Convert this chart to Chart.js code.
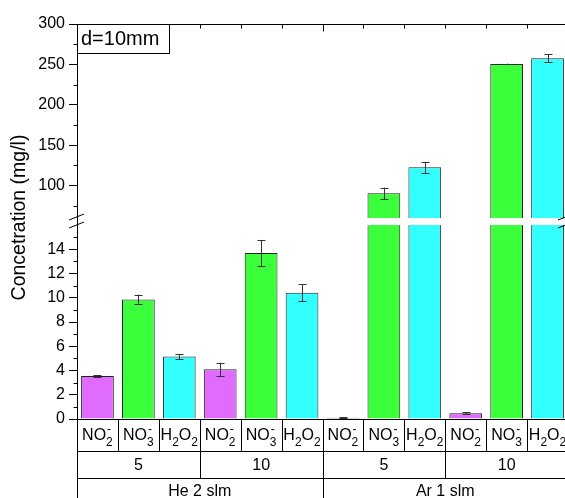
<!DOCTYPE html>
<html>
<head>
<meta charset="utf-8">
<script src="https://cdn.jsdelivr.net/npm/chart.js@4/dist/chart.umd.min.js"></script>
<style>
  html, body { margin: 0; padding: 0; background: #fff; overflow: hidden; }
  #wrap { width: 568px; height: 498px; }
</style>
</head>
<body>
<div id="wrap"><canvas id="concChart" width="568" height="498"></canvas></div>
<script>
// --- data ---
const gases = ['He 2 slm', 'Ar 1 slm'];
const distances = ['5', '10'];
const species = ['NO2-', 'NO3-', 'H2O2'];
// formula pieces: [text, subscript, superscript]
const speciesParts = [
    [['NO', '2', '-']],
    [['NO', '3', '-']],
    [['H', '2', ''], ['O', '2', '']]
];
const speciesColors = ['#df6bff', '#3cff3c', '#33ffff'];

const values = [3.54, 9.86, 5.16, 4.1, 13.7, 10.42, 0.1, 90.5, 122.7, 0.47, 250.5, 257.6];
const errors = [0.05, 0.4, 0.2, 0.55, 1.07, 0.71, 0.03, 7.2, 6.8, 0.07, 0.5, 4.8];

const lowTicks = [0, 2, 4, 6, 8, 10, 12, 14];
const lowMinor = [1, 3, 5, 7, 9, 11, 13, 15];
const highTicks = [100, 150, 200, 250, 300];
const highMinor = [75, 125, 175, 225, 275];

// axis break
const breakLow = 16, breakHigh = 60;
const lowMax = 16.29, highMin = 55.7, highMax = 300;

const categories = [];
gases.forEach(g => distances.forEach(d => species.forEach(s => categories.push(g + ' / ' + d + ' / ' + s))));

const lowData = values.map(v => Math.min(v, lowMax));
const highData = values.map(v => v > breakHigh ? [highMin, v] : null);
const barColors = categories.map((c, i) => speciesColors[i % 3]);

const FONT = '"Liberation Sans", Arial, sans-serif';
Chart.defaults.font.family = FONT;
Chart.defaults.color = '#000';

const line = (ctx, x1, y1, x2, y2) => {
    ctx.beginPath();
    ctx.moveTo(x1, y1);
    ctx.lineTo(x2, y2);
    ctx.stroke();
};
const px = v => Math.round(v) + 0.5;

function drawFormula(ctx, parts, cx, baseY) {
    const big = '16px ' + FONT;
    const small = '12px ' + FONT;
    let total = 0;
    const widths = parts.map(([t, sub, sup]) => {
        ctx.font = big;
        const w1 = ctx.measureText(t).width;
        ctx.font = small;
        const w2 = Math.max(ctx.measureText(sub).width, ctx.measureText(sup).width);
        total += w1 + w2;
        return [w1, w2];
    });
    let xx = cx - total / 2;
    ctx.textAlign = 'left';
    ctx.textBaseline = 'alphabetic';
    parts.forEach(([t, sub, sup], i) => {
        ctx.font = big;
        ctx.fillText(t, xx, baseY);
        xx += widths[i][0];
        ctx.font = small;
        if (sub) ctx.fillText(sub, xx, baseY + 6);
        if (sup) ctx.fillText(sup, xx + 1, baseY - 7);
        xx += widths[i][1];
    });
}

// error bars
const errorBars = {
    id: 'errorBars',
    afterDatasetsDraw(chart) {
        const {ctx, scales: {x, yLow, yHigh}} = chart;
        ctx.save();
        ctx.strokeStyle = '#333';
        ctx.lineWidth = 1;
        values.forEach((v, i) => {
            const y = v > breakHigh ? yHigh : yLow;
            const cx = px(x.getPixelForValue(i));
            const t = y.getPixelForValue(v + errors[i]);
            const b = y.getPixelForValue(v - errors[i]);
            line(ctx, cx, t, cx, b);
            line(ctx, cx - 4, px(t), cx + 4, px(t));
            line(ctx, cx - 4, px(b), cx + 4, px(b));
        });
        ctx.restore();
    }
};

// axis break band, frame, minor ticks, category table, labels
const decor = {
    id: 'decor',
    afterDraw(chart) {
        const {ctx, chartArea: a, scales: {x, yLow, yHigh}} = chart;
        ctx.save();
        ctx.strokeStyle = '#000';
        ctx.fillStyle = '#000';
        ctx.lineWidth = 1;

        // white gap for the break
        const gTop = yHigh.getPixelForValue(breakHigh);
        const gBot = yLow.getPixelForValue(breakLow);
        ctx.fillStyle = '#fff';
        ctx.fillRect(a.left + 1, gTop, a.right - a.left, gBot - gTop);
        ctx.fillStyle = '#000';
        [a.left, a.right - 2].forEach(xx => {
            line(ctx, xx - 8, gTop + 2, xx + 7, gTop - 4);
            line(ctx, xx - 8, gBot + 3, xx + 7, gBot - 3);
        });

        // minor ticks on left axis
        const L = px(a.left);
        lowMinor.forEach(v => { const y = px(yLow.getPixelForValue(v)); line(ctx, L - 4, y, L, y); });
        highMinor.forEach(v => { const y = px(yHigh.getPixelForValue(v)); line(ctx, L - 4, y, L, y); });

        // top frame with inward ticks at category borders
        const step = x.getPixelForValue(1) - x.getPixelForValue(0);
        const edge = i => px(x.getPixelForValue(i) - step / 2);
        const T = px(a.top);
        line(ctx, a.left, T, a.right, T);
        for (let i = 1; i < categories.length; i++) {
            line(ctx, edge(i), T, edge(i), T + (i % 6 === 0 ? 7 : 4));
        }

        // category table under the axis
        const B = px(a.bottom);
        const r1 = B + 32, r2 = r1 + 27, H = chart.height;
        line(ctx, L, B, L, H);
        line(ctx, a.left, r1, a.right, r1);
        line(ctx, a.left, r2, a.right, r2);
        for (let i = 1; i < categories.length; i++) {
            const end = i % 6 === 0 ? H : (i % 3 === 0 ? r2 : r1);
            line(ctx, edge(i), B, edge(i), end);
        }
        categories.forEach((c, i) => {
            drawFormula(ctx, speciesParts[i % 3], x.getPixelForValue(i), B + 20);
        });
        ctx.font = '16px ' + FONT;
        ctx.textAlign = 'center';
        ctx.textBaseline = 'middle';
        for (let g = 0; g < 4; g++) {
            const cx = (x.getPixelForValue(g * 3) + x.getPixelForValue(g * 3 + 2)) / 2;
            ctx.fillText(distances[g % 2], cx, (r1 + r2) / 2 + 1);
        }
        gases.forEach((g, k) => {
            const cx = (x.getPixelForValue(k * 6) + x.getPixelForValue(k * 6 + 5)) / 2;
            ctx.fillText(g, cx, r2 + 13);
        });

        // y title
        ctx.save();
        ctx.translate(20, (a.top + a.bottom) / 2 - 4);
        ctx.rotate(-Math.PI / 2);
        ctx.font = '19.5px ' + FONT;
        ctx.fillText('Concetration (mg/l)', 0, 0);
        ctx.restore();

        // annotation box
        ctx.font = '20px ' + FONT;
        ctx.textAlign = 'left';
        ctx.fillStyle = '#fff';
        ctx.fillRect(a.left + 1, a.top + 1, 91, 29);
        ctx.fillStyle = '#000';
        ctx.strokeRect(L, T, 92, 29);
        ctx.fillText('d=10mm', a.left + 4, a.top + 15);
        ctx.restore();
    }
};

const barStyle = {
    backgroundColor: barColors,
    borderColor: '#222',
    borderWidth: 1,
    barPercentage: 0.8,
    categoryPercentage: 1,
    grouped: false
};

const fitLeft = scale => { scale.width = 77; };

new Chart(document.getElementById('concChart'), {
    type: 'bar',
    data: {
        labels: categories,
        datasets: [
            Object.assign({data: lowData, yAxisID: 'yLow'}, barStyle),
            Object.assign({data: highData, yAxisID: 'yHigh'}, barStyle)
        ]
    },
    options: {
        responsive: false,
        animation: false,
        layout: {padding: {top: 24, left: 0, right: 0, bottom: 79}},
        plugins: {legend: {display: false}, tooltip: {enabled: false}},
        scales: {
            x: {
                grid: {display: true, drawOnChartArea: false, drawTicks: false},
                ticks: {display: false},
                border: {color: '#000', width: 1}
            },
            yLow: {
                type: 'linear',
                position: 'left',
                stack: 'y',
                stackWeight: 1,
                min: 0,
                max: lowMax,
                afterBuildTicks: s => { s.ticks = lowTicks.map(v => ({value: v})); },
                afterFit: fitLeft,
                ticks: {font: {size: 16}, padding: 4, autoSkip: false},
                grid: {drawOnChartArea: false, tickLength: 8, color: '#000'},
                border: {color: '#000', width: 1}
            },
            yHigh: {
                type: 'linear',
                position: 'left',
                stack: 'y',
                stackWeight: 1,
                min: highMin,
                max: highMax,
                afterBuildTicks: s => { s.ticks = highTicks.map(v => ({value: v})); },
                afterFit: fitLeft,
                ticks: {font: {size: 16}, padding: 4, autoSkip: false},
                grid: {drawOnChartArea: false, tickLength: 8, color: '#000'},
                border: {color: '#000', width: 1}
            }
        }
    },
    plugins: [errorBars, decor]
});
</script>
</body>
</html>
